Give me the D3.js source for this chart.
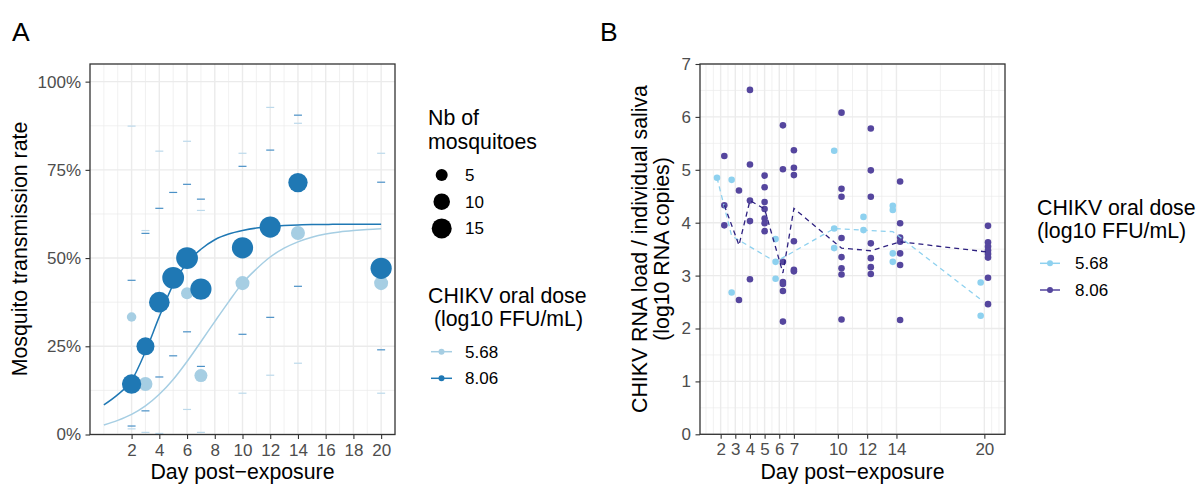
<!DOCTYPE html>
<html>
<head>
<meta charset="utf-8">
<script src="https://cdn.jsdelivr.net/npm/d3@7"></script>
<style>
  body { margin: 0; background: #fff; }
  text { font-family: "Liberation Sans", Arial, sans-serif; }
</style>
</head>
<body>
<svg id="chart" width="1204" height="486"></svg>
<script>

// ---------------- panel A data (transmission rate) ----------------
var doseLabels = ["5.68", "8.06"];

var daysHigh  = [2, 3, 4, 5, 6, 7, 10, 12, 14, 20];
var rateHigh  = [0.143, 0.25, 0.375, 0.444, 0.5, 0.412, 0.529, 0.588, 0.714, 0.471];
var nHigh     = [14, 12, 16, 18, 18, 17, 17, 17, 14, 17];
var lowerHigh = [0.024, 0.067, 0.163, 0.223, 0.291, 0.193, 0.284, 0.332, 0.42, 0.24];
var upperHigh = [0.437, 0.57, 0.641, 0.686, 0.709, 0.667, 0.76, 0.806, 0.905, 0.715];

var daysLow  = [2, 3, 4, 6, 7, 10, 12, 14, 20];
var rateLow  = [0.333, 0.143, null, 0.4, 0.167, 0.429, 0.6, 0.571, 0.429];
var nLow     = [3, 7, 4, 5, 6, 7, 5, 7, 7];
var lowerLow = [0.016, 0.006, 0.003, 0.071, 0.006, 0.117, 0.168, 0.202, 0.117];
var upperLow = [0.874, 0.578, 0.803, 0.831, 0.635, 0.797, 0.927, 0.882, 0.797];

// fitted curves at whole days
var curveDays = [0, 1, 2, 3, 4, 5, 6, 7, 8, 9, 10, 11, 12, 13, 14, 15, 16, 17, 18, 19, 20];
var curveHigh = [0.084, 0.113, 0.153, 0.235, 0.334, 0.425, 0.487, 0.525, 0.552, 0.568, 0.578, 0.585, 0.589, 0.592, 0.594, 0.595, 0.595, 0.596, 0.596, 0.596, 0.596];
var curveLow  = [0.027, 0.040, 0.057, 0.081, 0.114, 0.156, 0.207, 0.263, 0.32, 0.376, 0.429, 0.469, 0.503, 0.528, 0.546, 0.559, 0.568, 0.574, 0.578, 0.581, 0.583];

var xTicksA = [2, 4, 6, 8, 10, 12, 14, 16, 18, 20];
var xMinorA = [0, 1, 3, 5, 7, 9, 11, 13, 15, 17, 19];
var yTicksA = [0, 0.25, 0.5, 0.75, 1];
var yMinorA = [0.125, 0.375, 0.625, 0.875];
var sizeLegend = [5, 10, 15];

// ---------------- panel B data (RNA load in saliva) ----------------
var salivaDaysLow = [2, 3, 6, 10, 12, 14, 20];
var salivaLow = [
  [4.85],
  [4.81, 2.68],
  [3.69, 3.26, 2.94],
  [5.36, 3.89, 3.52],
  [4.11, 3.86],
  [4.32, 4.24, 3.42, 3.26],
  [2.87, 2.24]
];
var salivaDaysHigh = [2, 3, 4, 5, 6, 7, 10, 12, 14, 20];
var salivaHigh = [
  [5.26, 4.33, 3.95],
  [4.61, 2.54],
  [6.51, 5.10, 4.42, 4.03, 2.93],
  [4.89, 4.67, 4.39, 4.26, 4.08, 3.99, 3.84],
  [5.84, 5.01, 3.26, 2.88, 2.84, 2.71, 2.13],
  [5.37, 5.04, 4.90, 3.65, 3.11, 3.08],
  [6.08, 4.64, 4.49, 3.71, 3.35, 3.14, 3.02, 2.17],
  [5.78, 4.99, 4.49, 3.61, 3.33, 3.16, 3.03],
  [4.78, 3.99, 3.72, 3.64, 3.42, 3.20, 2.16],
  [3.94, 3.63, 3.55, 3.48, 3.41, 3.34, 2.96, 2.46]
];
// dashed summary lines
var lineLow  = [4.85, 3.75, 3.26, 3.89, 3.86, 3.83, 2.55];
var lineHigh = [4.33, 3.575, 4.42, 4.26, 3.05, 4.27, 3.52, 3.47, 3.64, 3.445];

var xTicksB = [2, 3, 4, 5, 6, 7, 10, 12, 14, 20];
var xMinorB = [1, 1.5, 2.5, 3.5, 4.5, 5.5, 6.5, 8.5, 11, 13, 17, 20.5, 21];
var yTicksB = [0, 1, 2, 3, 4, 5, 6, 7];
var yMinorB = [0.5, 1.5, 2.5, 3.5, 4.5, 5.5, 6.5];

////////////////////////////////////////////////////////////////////////////////

var svg = d3.select("#chart");
var gridCol = "#EBEBEB";
var tickCol = "#4D4D4D";
var titleSize = 21.3, textSize = 17;

function gridLines(g, x, y, xMajor, xMinor, yMajor, yMinor) {
  var x0 = x.range()[0], x1 = x.range()[1], y0 = y.range()[0], y1 = y.range()[1];
  g.selectAll(".gxm").data(xMinor).enter().append("line")
    .attr("x1", d => x(d)).attr("x2", d => x(d)).attr("y1", y0).attr("y2", y1)
    .attr("stroke", gridCol).attr("stroke-width", 0.7);
  g.selectAll(".gym").data(yMinor).enter().append("line")
    .attr("y1", d => y(d)).attr("y2", d => y(d)).attr("x1", x0).attr("x2", x1)
    .attr("stroke", gridCol).attr("stroke-width", 0.7);
  g.selectAll(".gxM").data(xMajor).enter().append("line")
    .attr("x1", d => x(d)).attr("x2", d => x(d)).attr("y1", y0).attr("y2", y1)
    .attr("stroke", gridCol).attr("stroke-width", 1.4);
  g.selectAll(".gyM").data(yMajor).enter().append("line")
    .attr("y1", d => y(d)).attr("y2", d => y(d)).attr("x1", x0).attr("x2", x1)
    .attr("stroke", gridCol).attr("stroke-width", 1.4);
}

function axes(g, x, y, xTicks, yTicks, yFormat) {
  var xa = g.append("g").attr("transform", "translate(0," + y.range()[0] + ")")
    .call(d3.axisBottom(x).tickValues(xTicks).tickSize(4.5).tickPadding(4.5));
  var ya = g.append("g").attr("transform", "translate(" + x.range()[0] + ",0)")
    .call(d3.axisLeft(y).tickValues(yTicks).tickSize(4.5).tickPadding(4.5).tickFormat(yFormat));
  [xa, ya].forEach(function(a) {
    a.select(".domain").remove();
    a.selectAll("line").attr("stroke", "#333").attr("stroke-width", 1.1);
    a.selectAll("text").attr("fill", tickCol).style("font-size", textSize + "px")
      .style("font-family", "'Liberation Sans', Arial, sans-serif");
  });
  g.append("rect").attr("x", x.range()[0]).attr("y", y.range()[1])
    .attr("width", x.range()[1] - x.range()[0]).attr("height", y.range()[0] - y.range()[1])
    .attr("fill", "none").attr("stroke", "#333").attr("stroke-width", 1.3);
}

function label(txt, x, y, size, anchor, rot) {
  var t = svg.append("text").attr("x", x).attr("y", y).text(txt)
    .style("font-size", size + "px").attr("text-anchor", anchor || "start");
  if (rot) t.attr("transform", "rotate(-90," + x + "," + y + ")");
  return t;
}

////////////////////////////////////////////////////////////////////////////////
// panel A

var lightA = "#A6CEE3", darkA = "#1F78B4";
var xA = d3.scaleLinear().domain([-1, 21]).range([90, 395]);
var yA = d3.scaleLinear().domain([0, 1.05]).range([434.5, 64]);
var rSize = d3.scaleLinear().domain([Math.sqrt(5), Math.sqrt(15)]).range([6, 10]);

var gA = svg.append("g");
gridLines(gA, xA, yA, xTicksA, xMinorA, yTicksA, yMinorA);

// CI dashes
function dashes(days, lo, hi, col) {
  days.forEach(function(d, i) {
    [lo[i], hi[i]].forEach(function(v) {
      gA.append("line").attr("x1", xA(d) - 4).attr("x2", xA(d) + 4)
        .attr("y1", yA(v)).attr("y2", yA(v))
        .attr("stroke", col).attr("stroke-width", 1.2);
    });
  });
}
dashes(daysLow, lowerLow, upperLow, "#BCD9EB");
dashes(daysHigh, lowerHigh, upperHigh, "#4A90C6");

var curveLine = d3.line().x((d, i) => xA(curveDays[i])).y(d => yA(d)).curve(d3.curveMonotoneX);
gA.append("path").attr("d", curveLine(curveLow)).attr("fill", "none").attr("stroke", lightA).attr("stroke-width", 1.5);
gA.append("path").attr("d", curveLine(curveHigh)).attr("fill", "none").attr("stroke", darkA).attr("stroke-width", 1.5);

daysLow.forEach(function(d, i) {
  if (rateLow[i] === null) return;
  gA.append("circle").attr("cx", xA(d)).attr("cy", yA(rateLow[i]))
    .attr("r", rSize(Math.sqrt(nLow[i]))).attr("fill", lightA);
});
daysHigh.forEach(function(d, i) {
  gA.append("circle").attr("cx", xA(d)).attr("cy", yA(rateHigh[i]))
    .attr("r", rSize(Math.sqrt(nHigh[i]))).attr("fill", darkA);
});

axes(gA, xA, yA, xTicksA, yTicksA, d => Math.round(d * 100) + "%");

label("A", 12, 41, 26.5);
label("Mosquito transmission rate", 27, 249, titleSize, "middle", true);
label("Day post\u2212exposure", 242.5, 478.5, titleSize, "middle");

// legend A
label("Nb of", 428, 125, titleSize);
label("mosquitoes", 428, 148.5, titleSize);
sizeLegend.forEach(function(n, i) {
  var cy = 175 + i * 26.7;
  svg.append("circle").attr("cx", 441.7).attr("cy", cy).attr("r", rSize(Math.sqrt(n))).attr("fill", "#000");
  label(n, 465, cy + 6, textSize);
});
label("CHIKV oral dose", 428, 303, titleSize);
label(" (log10 FFU/mL)", 428, 325.5, titleSize).attr("xml:space", "preserve");
[lightA, darkA].forEach(function(c, i) {
  var cy = 351.7 + i * 26.6;
  svg.append("line").attr("x1", 431).attr("x2", 452).attr("y1", cy).attr("y2", cy).attr("stroke", c).attr("stroke-width", 1.5);
  svg.append("circle").attr("cx", 441.5).attr("cy", cy).attr("r", 3).attr("fill", c);
  label(doseLabels[i], 465, cy + 6, textSize);
});

////////////////////////////////////////////////////////////////////////////////
// panel B

var lightB = "#8ED1EF", darkB = "#55469E", darkLineB = "#2E2180";
var xB = d3.scaleLinear().domain([0.59, 21.41]).range([700, 1005]);
var yB = d3.scaleLinear().domain([0, 7]).range([434.3, 64]);
var dodge = 0.25;

var gB = svg.append("g");
gridLines(gB, xB, yB, xTicksB, xMinorB, yTicksB, yMinorB);

// dodge only on days where both doses were sampled
function shift(day, other, sign) {
  return other.indexOf(day) >= 0 ? day + sign * dodge : day;
}

function salivaPoints(days, vals, other, sign, col) {
  days.forEach(function(d, i) {
    vals[i].forEach(function(v) {
      gB.append("circle").attr("cx", xB(shift(d, other, sign))).attr("cy", yB(v))
        .attr("r", 3.3).attr("fill", col);
    });
  });
}
salivaPoints(salivaDaysLow, salivaLow, salivaDaysHigh, -1, lightB);
salivaPoints(salivaDaysHigh, salivaHigh, salivaDaysLow, 1, darkB);

function salivaLine(days, vals, other, sign, col) {
  var line = d3.line().x((d, i) => xB(shift(days[i], other, sign))).y(d => yB(d));
  gB.append("path").attr("d", line(vals)).attr("fill", "none").attr("stroke", col)
    .attr("stroke-width", 1.3).attr("stroke-dasharray", "5,4");
}
salivaLine(salivaDaysLow, lineLow, salivaDaysHigh, -1, lightB);
salivaLine(salivaDaysHigh, lineHigh, salivaDaysLow, 1, darkLineB);

axes(gB, xB, yB, xTicksB, yTicksB, d => d);

label("B", 600, 41, 26.5);
label("CHIKV RNA load / individual saliva", 647, 249, titleSize, "middle", true);
label("(log10 RNA copies)", 669, 249, titleSize, "middle", true);
label("Day post\u2212exposure", 852.5, 478.5, titleSize, "middle");

// legend B
label("CHIKV oral dose", 1037, 215, titleSize);
label("(log10 FFU/mL)", 1037, 237.5, titleSize);
[lightB, darkB].forEach(function(c, i) {
  var cy = 263.3 + i * 26.7;
  svg.append("line").attr("x1", 1040).attr("x2", 1060).attr("y1", cy).attr("y2", cy).attr("stroke", c).attr("stroke-width", 1.5);
  svg.append("circle").attr("cx", 1050).attr("cy", cy).attr("r", 3).attr("fill", c);
  label(doseLabels[i], 1075, cy + 6, textSize);
});

</script>
</body>
</html>
